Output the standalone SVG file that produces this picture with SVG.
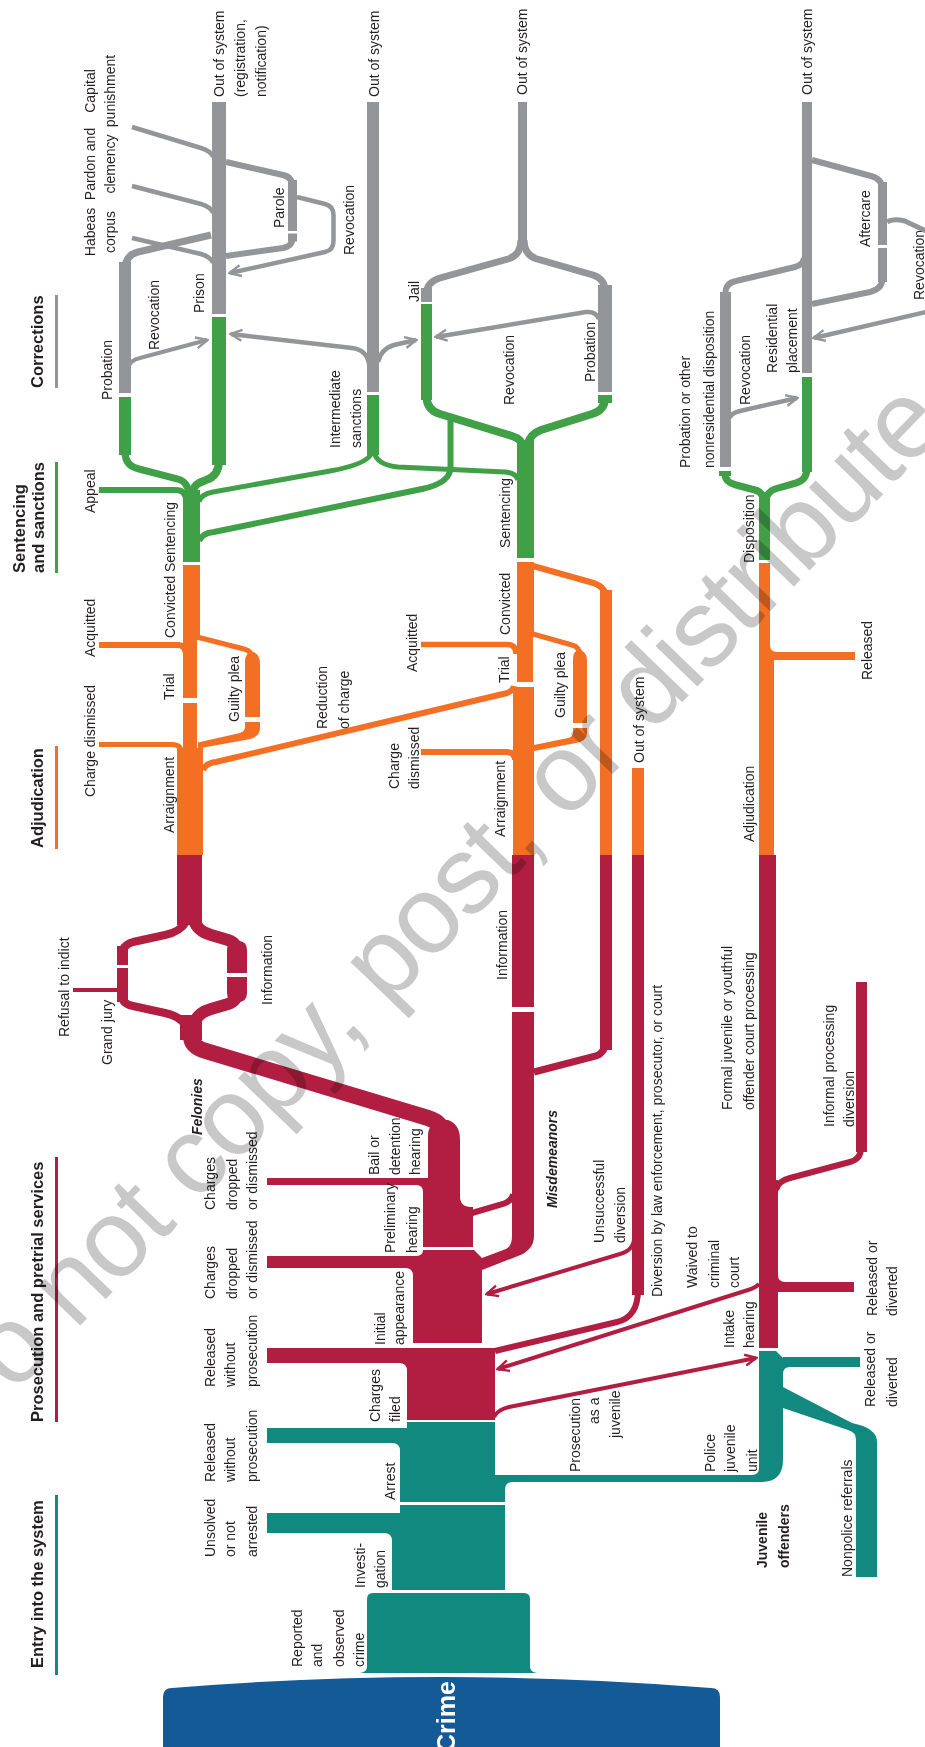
<svg xmlns="http://www.w3.org/2000/svg" width="925" height="1747" viewBox="0 0 925 1747">
<defs>
<style>
.l{font-family:"Liberation Sans",Arial,Helvetica,sans-serif;font-size:14px;fill:#231f20}
.h{font-size:16.5px;font-weight:bold}
.bi{font-weight:bold;font-style:italic}
.t{fill:#12897f}.r{fill:#b11e41}.o{fill:#f26f23}.g{fill:#40a048}.y{fill:#939598}.b{fill:#135a96}
.sT{fill:none;stroke:#12897f}.sR{fill:none;stroke:#b11e41}.sO{fill:none;stroke:#f26f23}.sG{fill:none;stroke:#40a048}.sY{fill:none;stroke:#939598}
</style>
<marker id="ay" viewBox="0 0 14 14" refX="12" refY="7" markerWidth="14" markerHeight="14" markerUnits="userSpaceOnUse" orient="auto"><path d="M1,1.5 L12.5,7 L1,12.5" fill="none" stroke="#939598" stroke-width="2.4"/></marker>
<marker id="ar" viewBox="0 0 14 14" refX="12" refY="7" markerWidth="14" markerHeight="14" markerUnits="userSpaceOnUse" orient="auto"><path d="M1,1.5 L12.5,7 L1,12.5" fill="none" stroke="#b11e41" stroke-width="2.4"/></marker>
</defs>
<rect width="925" height="1747" fill="#fff"/>

<g id="headers">
<rect x="55" y="295" width="3" height="93" class="y"/>
<rect x="55" y="462" width="3" height="111" class="g"/>
<rect x="55" y="746" width="3" height="103" class="o"/>
<rect x="55" y="1157" width="3" height="265" class="r"/>
<rect x="55" y="1495" width="3" height="180" class="t"/>
<text class="l h" transform="translate(43,388) rotate(-90)">Corrections</text>
<text class="l h" transform="translate(25,573) rotate(-90)"><tspan x="0" y="0">Sentencing</tspan><tspan x="0" y="18.5">and sanctions</tspan></text>
<text class="l h" transform="translate(43,848) rotate(-90)">Adjudication</text>
<text class="l h" transform="translate(43,1422) rotate(-90)">Prosecution and pretrial services</text>
<text class="l h" transform="translate(43,1668) rotate(-90)">Entry into the system</text>
</g>

<g id="crime">
<path class="b" d="M163,1747 V1697 Q163,1688 172,1688 Q441,1666 711,1688 Q720,1688 720,1697 V1747 Z"/>
<text transform="translate(455,1752) rotate(-90)" font-family="Liberation Sans,Arial,sans-serif" font-size="25" font-weight="bold" fill="#fff">Crime</text>
</g>

<g id="reported">
<path class="t" d="M367,1667 V1599 Q367,1593 373,1593 H524 Q530,1593 530,1599 V1667 Q530,1672 537,1673 H360 Q367,1672 367,1667 Z"/>
<text class="l" transform="translate(302,1667) rotate(-90)"><tspan x="0" y="0">Reported</tspan><tspan x="0" y="20">and</tspan><tspan x="0" y="41.5">observed</tspan><tspan x="0" y="61.5">crime</tspan></text>
</g>

<g id="investigation">
<path class="t" d="M400,1505 H505 V1590 H392 V1541 Q392,1533 384,1533 H267 V1513 H400 Z"/>
<text class="l" transform="translate(365,1588) rotate(-90)"><tspan x="0" y="0">Investi-</tspan><tspan x="0" y="20">gation</tspan></text>
<text class="l" transform="translate(215,1557) rotate(-90)"><tspan x="0" y="0">Unsolved</tspan><tspan x="0" y="20">or not</tspan><tspan x="0" y="42">arrested</tspan></text>
</g>

<g id="arrest">
<path class="t" d="M407,1422 H495 V1475 H505 V1502 H400 V1451 Q400,1443 392,1443 H267 V1428 H407 Z"/>
<text class="l" transform="translate(395,1500) rotate(-90)">Arrest</text>
<text class="l" transform="translate(215,1482) rotate(-90)"><tspan x="0" y="0">Released</tspan><tspan x="0" y="20">without</tspan><tspan x="0" y="42">prosecution</tspan></text>
</g>

<g id="juvenile-unit">
<path class="t" d="M495,1475 H752 Q759,1475 759,1468 V1351 H776 L783,1358 V1460 Q783,1482 761,1482 H513 Q505,1482 505,1490 L505,1482 H495 Z"/>
<path class="t" d="M783,1357 H860 V1367 H790 Q783,1367 783,1374 Z"/>
<path class="t" d="M783,1387 L852,1423 Q877,1428 877,1442 V1577 H856 V1440 Q856,1432 848,1430 L783,1408 Z"/>
<text class="l" transform="translate(715,1472) rotate(-90)"><tspan x="0" y="0">Police</tspan><tspan x="0" y="20">juvenile</tspan><tspan x="0" y="42">unit</tspan></text>
<text class="l" transform="translate(875,1407) rotate(-90)"><tspan x="0" y="0">Released or</tspan><tspan x="0" y="22">diverted</tspan></text>
<text class="l" transform="translate(852,1577) rotate(-90)">Nonpolice referrals</text>
<text class="l" font-weight="bold" transform="translate(767,1568) rotate(-90)"><tspan x="0" y="0">Juvenile</tspan><tspan x="0" y="21.5">offenders</tspan></text>
</g>

<g id="charges-filed">
<path class="r" d="M267,1348 H495 V1420 H407 V1371 Q407,1363 399,1363 H267 Z"/>
<text class="l" transform="translate(380,1422) rotate(-90)"><tspan x="0" y="0">Charges</tspan><tspan x="0" y="20">filed</tspan></text>
<text class="l" transform="translate(215,1387) rotate(-90)"><tspan x="0" y="0">Released</tspan><tspan x="0" y="20">without</tspan><tspan x="0" y="42">prosecution</tspan></text>
</g>

<g id="initial-appearance">
<path class="r" d="M267,1256 H415 Q423,1256 423,1250 H474 L482,1258 V1343 H413 V1276 Q413,1268 405,1268 H267 Z"/>
<text class="l" transform="translate(385,1345) rotate(-90)"><tspan x="0" y="0">Initial</tspan><tspan x="0" y="19">appearance</tspan></text>
<text class="l" transform="translate(215,1299) rotate(-90)"><tspan x="0" y="0">Charges</tspan><tspan x="0" y="22">dropped</tspan><tspan x="0" y="42">or dismissed</tspan></text>
</g>

<g id="preliminary-bail">
<path class="r" d="M428,1136 Q428,1122 442,1120 L448,1120 Q460,1124 460,1140 V1196 Q460,1207 471,1207 H473 V1247 H423 V1192 Q423,1185 416,1185 H267 V1178 H428 Z"/>
<text class="l" transform="translate(395,1253) rotate(-90)"><tspan x="0" y="0">Preliminary</tspan><tspan x="0" y="22">hearing</tspan></text>
<text class="l" transform="translate(378.5,1175) rotate(-90)"><tspan x="0" y="0">Bail or</tspan><tspan x="0" y="21.5">detention</tspan><tspan x="0" y="41.5">hearing</tspan></text>
<text class="l" transform="translate(215,1210) rotate(-90)"><tspan x="0" y="0">Charges</tspan><tspan x="0" y="22">dropped</tspan><tspan x="0" y="42">or dismissed</tspan></text>
<text class="l bi" transform="translate(202,1135) rotate(-90)">Felonies</text>
</g>

<g id="grand-jury">
<rect class="r" x="177" y="855" width="25" height="70"/>
<rect class="r" x="180" y="1015" width="22" height="25"/>
<rect class="r" x="117" y="946" width="11" height="19"/>
<rect class="r" x="117" y="968" width="11" height="34"/>
<rect class="r" x="73" y="988" width="45" height="4"/>
<path class="r" d="M227,973 V950 Q227,941 236,941 H238 Q247,941 247,950 V973 Z"/>
<path class="r" d="M227,977 H247 V993 Q247,1002 238,1002 H236 Q227,1002 227,993 Z"/>
<text class="l" transform="translate(112,1065) rotate(-90)">Grand jury</text>
<text class="l" transform="translate(68.5,1037) rotate(-90)">Refusal to indict</text>
<text class="l" transform="translate(272,1005) rotate(-90)">Information</text>
</g>

<g id="misdemeanor-track">
<rect class="r" x="512" y="855" width="22" height="152"/>
<path class="r" d="M512,1012 H534 V1236 Q534,1250 518,1256 L482,1270 V1258 L506,1249 Q512,1246 512,1236 Z"/>
<text class="l" transform="translate(507,980) rotate(-90)">Information</text>
<text class="l bi" transform="translate(557,1208) rotate(-90)">Misdemeanors</text>
<rect class="o" x="600" y="590" width="12" height="265"/>
<rect class="r" x="600" y="855" width="12" height="195"/>
</g>

<g id="diversion">
<rect class="o" x="632" y="768" width="12" height="87"/>
<rect class="r" x="632" y="855" width="12" height="440"/>
<text class="l" transform="translate(643.5,763) rotate(-90)">Out of system</text>
<text class="l" transform="translate(662,1297) rotate(-90)">Diversion by law enforcement, prosecutor, or court</text>
<text class="l" transform="translate(603.5,1243) rotate(-90)"><tspan x="0" y="0">Unsuccessful</tspan><tspan x="0" y="21.5">diversion</tspan></text>
</g>

<g id="juvenile-intake">
<rect class="r" x="759" y="855" width="17" height="325"/>
<rect class="r" x="759" y="1180" width="19" height="168"/>
<rect class="r" x="856" y="982" width="11" height="170"/>
<path class="r" d="M778,1275 Q778,1282 785,1282 H854 V1292 H778 Z"/>
<text class="l" transform="translate(733.5,1348) rotate(-90)"><tspan x="0" y="0">Intake</tspan><tspan x="0" y="20">hearing</tspan></text>
<text class="l" transform="translate(877,1316) rotate(-90)"><tspan x="0" y="0">Released or</tspan><tspan x="0" y="20">diverted</tspan></text>
<text class="l" transform="translate(833.5,1127) rotate(-90)"><tspan x="0" y="0">Informal processing</tspan><tspan x="0" y="20">diversion</tspan></text>
<text class="l" transform="translate(732,1110) rotate(-90)"><tspan x="0" y="0">Formal juvenile or youthful</tspan><tspan x="0" y="21.5">offender court processing</tspan></text>
<text class="l" transform="translate(697,1288) rotate(-90)"><tspan x="0" y="0">Waived to</tspan><tspan x="0" y="21.5">criminal</tspan><tspan x="0" y="42">court</tspan></text>
<text class="l" transform="translate(580,1472) rotate(-90)">Prosecution</text>
<text class="l" transform="translate(599,1424) rotate(-90)">as a</text>
<text class="l" transform="translate(620,1438) rotate(-90)">juvenile</text>
</g>

<g id="felony-adjudication">
<rect class="o" x="183" y="565" width="17" height="75"/>
<rect class="o" x="183" y="640" width="14" height="58"/>
<rect class="o" x="183" y="703" width="14" height="46"/>
<rect class="o" x="177" y="748" width="26" height="107"/>
<path class="o" d="M245,717 V662 Q245,652 253,652 Q260,654 260,664 V717 Z"/>
<path class="o" d="M245,722 H260 V728 Q260,737 248,739.5 L198,748.5 V742.5 L240,733 Q245,731.5 245,727 Z"/>
<text class="l" transform="translate(95,657) rotate(-90)">Acquitted</text>
<text class="l" transform="translate(95,797) rotate(-90)">Charge dismissed</text>
<text class="l" transform="translate(173.5,700) rotate(-90)">Trial</text>
<text class="l" transform="translate(238.5,722) rotate(-90)">Guilty plea</text>
<text class="l" transform="translate(173.5,833) rotate(-90)">Arraignment</text>
<text class="l" transform="translate(327,729) rotate(-90)"><tspan x="0" y="0">Reduction</tspan><tspan x="0" y="21.5">of charge</tspan></text>
</g>

<g id="misdemeanor-adjudication">
<rect class="o" x="517" y="562" width="17" height="74"/>
<rect class="o" x="517" y="636" width="16" height="46"/>
<rect class="o" x="513" y="687" width="21" height="168"/>
<path class="o" d="M573,723 V659 Q573,650 580,650 Q587,652 587,661 V723 Z"/>
<path class="o" d="M573,728 H587 V733 Q587,741 576,743 L534,751 V745 L568,738 Q573,736.5 573,733 Z"/>
<text class="l" transform="translate(417,672) rotate(-90)">Acquitted</text>
<text class="l" transform="translate(398.5,789) rotate(-90)"><tspan x="0" y="0">Charge</tspan><tspan x="0" y="20">dismissed</tspan></text>
<text class="l" transform="translate(510,635) rotate(-90)">Convicted</text>
<text class="l" transform="translate(508.5,683) rotate(-90)">Trial</text>
<text class="l" transform="translate(565,718) rotate(-90)">Guilty plea</text>
<text class="l" transform="translate(505,837) rotate(-90)">Arraignment</text>
</g>

<g id="juvenile-adjudication">
<rect class="o" x="759" y="563" width="11" height="97"/>
<rect class="o" x="759" y="660" width="15" height="195"/>
<path class="o" d="M770,645 Q770,652 777,652 H855 V660 H770 Z"/>
<text class="l" transform="translate(753.5,842) rotate(-90)">Adjudication</text>
<text class="l" transform="translate(872,680) rotate(-90)">Released</text>
</g>

<g id="felony-sentencing">
<rect class="g" x="183" y="490" width="17" height="72"/>
<rect class="g" x="119" y="397" width="12" height="58"/>
<rect class="g" x="212" y="317" width="14" height="148"/>
<rect class="g" x="367" y="395" width="12" height="60"/>
<text class="l" transform="translate(95,513) rotate(-90)">Appeal</text>
<text class="l" transform="translate(175,638) rotate(-90)">Convicted</text>
<text class="l" transform="translate(175,572) rotate(-90)">Sentencing</text>
</g>

<g id="misdemeanor-sentencing">
<rect class="g" x="517" y="440" width="17" height="118"/>
<rect class="g" x="421" y="304" width="11" height="96"/>
<rect class="g" x="598" y="395" width="14" height="8"/>
<text class="l" transform="translate(510,548) rotate(-90)">Sentencing</text>
</g>

<g id="juvenile-disposition">
<rect class="g" x="759" y="492" width="11" height="68"/>
<rect class="g" x="719" y="471" width="12" height="5"/>
<rect class="g" x="802" y="377" width="10" height="95"/>
<text class="l" transform="translate(753.5,563) rotate(-90)">Disposition</text>
</g>

<g id="felony-corrections">
<rect class="y" x="119" y="262" width="12" height="131"/>
<rect class="y" x="212" y="102" width="14" height="212"/>
<rect class="y" x="288" y="180" width="9" height="51"/>
<rect class="y" x="288" y="233.5" width="9" height="8"/>
<rect class="y" x="367" y="102" width="12" height="290"/>
<text class="l" transform="translate(111.9,400) rotate(-90)">Probation</text>
<text class="l" transform="translate(158.5,350) rotate(-90)">Revocation</text>
<text class="l" transform="translate(203.5,313) rotate(-90)">Prison</text>
<text class="l" transform="translate(283.5,228) rotate(-90)">Parole</text>
<text class="l" transform="translate(353.5,255) rotate(-90)">Revocation</text>
<text class="l" transform="translate(223.5,97) rotate(-90)"><tspan x="0" y="0">Out of system</tspan><tspan x="0" y="21">(registration,</tspan><tspan x="0" y="42">notification)</tspan></text>
<text class="l" text-anchor="middle" transform="translate(95,232) rotate(-90)"><tspan x="0" y="0">Habeas</tspan><tspan x="0" y="20">corpus</tspan></text>
<text class="l" text-anchor="middle" transform="translate(95,164) rotate(-90)"><tspan x="0" y="0">Pardon and</tspan><tspan x="0" y="20">clemency</tspan></text>
<text class="l" text-anchor="middle" transform="translate(95,91) rotate(-90)"><tspan x="0" y="0">Capital</tspan><tspan x="0" y="20">punishment</tspan></text>
<text class="l" transform="translate(378.5,97) rotate(-90)">Out of system</text>
<text class="l" transform="translate(340,448) rotate(-90)"><tspan x="0" y="0">Intermediate</tspan><tspan x="0" y="21">sanctions</tspan></text>
</g>

<g id="jail-corrections">
<rect class="y" x="518" y="102" width="9" height="144"/>
<rect class="y" x="421" y="288" width="11" height="14"/>
<rect class="y" x="598" y="285" width="14" height="107"/>
<text class="l" transform="translate(418.5,302) rotate(-90)">Jail</text>
<text class="l" transform="translate(527,95) rotate(-90)">Out of system</text>
<text class="l" transform="translate(513.5,405) rotate(-90)">Revocation</text>
<text class="l" transform="translate(595,382) rotate(-90)">Probation</text>
</g>

<g id="juvenile-corrections">
<rect class="y" x="802" y="102" width="10" height="271"/>
<rect class="y" x="878" y="182" width="9" height="63"/>
<rect class="y" x="878" y="248" width="9" height="34"/>
<rect class="y" x="720" y="292" width="11" height="175"/>
<text class="l" transform="translate(812,95) rotate(-90)">Out of system</text>
<text class="l" transform="translate(870,247) rotate(-90)">Aftercare</text>
<text class="l" transform="translate(923.5,300) rotate(-90)">Revocation</text>
<text class="l" transform="translate(777,373) rotate(-90)"><tspan x="0" y="0">Residential</tspan><tspan x="0" y="20">placement</tspan></text>
<text class="l" transform="translate(750,405) rotate(-90)">Revocation</text>
<text class="l" transform="translate(690,468) rotate(-90)"><tspan x="0" y="0">Probation or other</tspan><tspan x="0" y="23.5">nonresidential disposition</tspan></text>
</g>

<g id="connectors">
<path class="sR" stroke-width="16" d="M191,1018 V1036 Q191,1047 206,1051 L428,1118 Q444,1123 444,1138"/>
<path class="sR" stroke-width="8" d="M186,922 Q180,932 165,935 L133,942 Q122,945 122,955"/>
<path class="sR" stroke-width="8" d="M122,995 Q122,1004 133,1006 L165,1013 Q180,1016 186,1026"/>
<path class="sR" stroke-width="12" d="M194,920 Q197,931 211,935 L228,940 Q237,943 237,952"/>
<path class="sR" stroke-width="12" d="M237,992 Q237,1001 228,1004 L211,1009 Q197,1013 194,1024"/>
<path class="sR" stroke-width="6" d="M472,1213 L503,1204 Q512,1201 513,1194"/>
<path class="sR" stroke-width="7" d="M606,1040 Q606,1052 596,1056 L534,1072"/>
<path class="sR" stroke-width="6" d="M638,1290 Q638,1317 617,1322 L495,1351"/>
<path class="sR" stroke-width="4" marker-end="url(#ar)" d="M634,1238 Q634,1250 620,1254 L487,1294"/>
<path class="sR" stroke-width="4" marker-end="url(#ar)" d="M759,1284 Q755,1288 748,1290 L498,1369"/>
<path class="sR" stroke-width="4" marker-end="url(#ar)" d="M494,1417 Q497,1410 509,1407 L756,1358"/>
<path class="sR" stroke-width="6" d="M776,1190 Q778,1181 790,1178 L850,1162 Q861,1159 861,1148"/>
<path class="sO" stroke-width="6" d="M99,645 H178 Q186,645 186,656"/>
<path class="sO" stroke-width="5" d="M99,744.5 H172 Q181,744.5 181,752"/>
<path class="sO" stroke-width="5" d="M197,637 L244,649 Q252.5,651 252.5,660"/>
<path class="sO" stroke-width="6" d="M203,770 Q206,763 216,762 L503,694 Q513,692 514,686"/>
<path class="sO" stroke-width="6" d="M533,566 L590,582 Q606,586 606,598"/>
<path class="sO" stroke-width="5.5" d="M421,644.5 H507 Q516,644.5 516,654"/>
<path class="sO" stroke-width="5" d="M533,634 L572,645 Q580,647 580,656"/>
<path class="sO" stroke-width="6" d="M421,752 H506 Q515,752 515,760"/>
<path class="sG" stroke-width="7" d="M125,452 Q125,466 139,469 L178,479 Q188,482 189,494"/>
<path class="sG" stroke-width="8" d="M219,460 Q219,476 206,480 L199,483 Q193,486 193,494"/>
<path class="sG" stroke-width="6" d="M99,490 H176 Q185,490 186,499"/>
<path class="sG" stroke-width="5" d="M199,502 Q201,494 213,492 L330,471 Q369,464 372,452"/>
<path class="sG" stroke-width="5" d="M374,452 Q377,465 398,467 L505,472 Q516,473 518,480"/>
<path class="sG" stroke-width="6" d="M199,541 Q202,533 214,532 L422,489 Q450,483 450.5,468 V414"/>
<path class="sG" stroke-width="8" d="M426.5,396 Q426.5,410 440,414 L512,436 Q522,439 524,448"/>
<path class="sG" stroke-width="8" d="M605,398 Q605,410 592,414 L541,430 Q530,434 528,444"/>
<path class="sG" stroke-width="7" d="M725,471 V474 Q725,482 736,485 L755,490 Q763,492 763,500"/>
<path class="sG" stroke-width="7" d="M807,468 Q807,480 796,483 L775,489 Q767,492 766,500"/>
<path class="sY" stroke-width="7" d="M125,270 Q125,255 138,252 L211,235"/>
<path class="sY" stroke-width="4" marker-end="url(#ay)" d="M128,368 Q130,360 140,358 L207,340"/>
<path class="sY" stroke-width="4.5" d="M132,127 L201,148 Q211,151 213,157"/>
<path class="sY" stroke-width="4.5" d="M132,186 L201,204 Q211,207 213,213"/>
<path class="sY" stroke-width="4.5" d="M132,238 L201,254 Q211,257 213,263"/>
<path class="sY" stroke-width="6" d="M226,162 L283,175 Q292.5,177 292.5,187"/>
<path class="sY" stroke-width="6" d="M292.5,238 Q292.5,246 283,248 L226,256"/>
<path class="sY" stroke-width="4.5" marker-end="url(#ay)" d="M297,197 L325,204 Q333.5,206 333.5,215 V241 Q333.5,250 325,252 L230,273"/>
<path class="sY" stroke-width="4.5" marker-end="url(#ay)" d="M369,364 Q367,350 352,348 L231,334"/>
<path class="sY" stroke-width="4.5" marker-end="url(#ay)" d="M378,362 Q381,349 394,345 L416,340"/>
<path class="sY" stroke-width="7" d="M521,240 Q521,255 508,259 L440,278 Q426.5,282 426.5,294"/>
<path class="sY" stroke-width="7" d="M524,240 Q524,255 537,259 L593,275 Q605,279 605,291"/>
<path class="sY" stroke-width="4.5" marker-end="url(#ay)" d="M599,319 Q596,311 586,312 L436,337"/>
<path class="sY" stroke-width="6" d="M812,160 L871,176 Q882.5,179 882.5,190"/>
<path class="sY" stroke-width="6" d="M882.5,278 Q882.5,289 870,292 L812,304"/>
<path class="sY" stroke-width="5" d="M887,222 Q893,218 905,221 L930,233"/>
<path class="sY" stroke-width="4.5" marker-end="url(#ay)" d="M935,310 L814,338"/>
<path class="sY" stroke-width="6" d="M725.5,300 V293 Q725.5,283 736,281 L795,267 Q803,265 804,258"/>
<path class="sY" stroke-width="4.5" marker-end="url(#ay)" d="M730,418 Q731,413 740,411 L797,398"/>
</g>

<text transform="translate(-40,1450) rotate(-46)" font-family="Liberation Sans,Arial,sans-serif" font-size="110" textLength="1424" lengthAdjust="spacing" fill="#c8c8c8" style="mix-blend-mode:multiply">Do not copy, post, or distribute</text>
</svg>
